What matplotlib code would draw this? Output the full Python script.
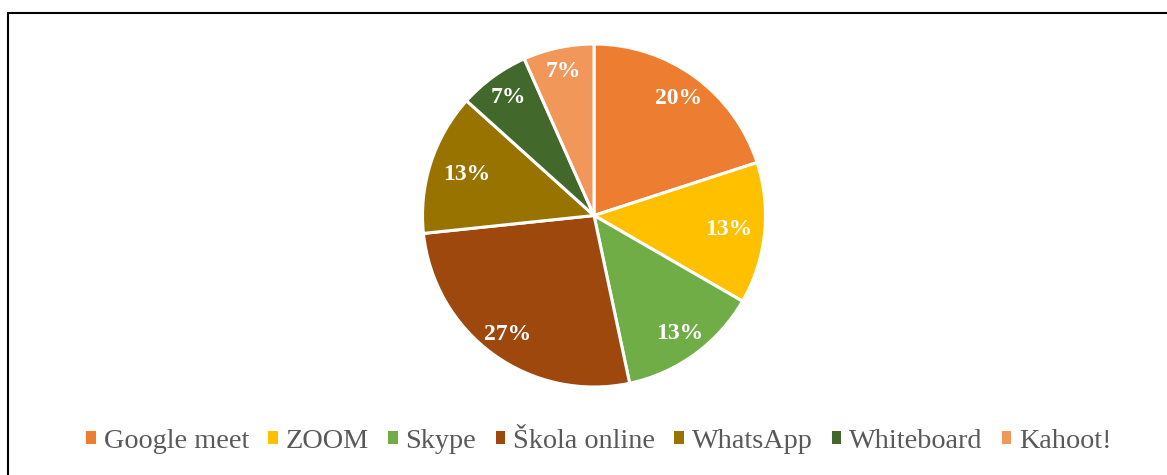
import numpy as np
import matplotlib.pyplot as plt
from matplotlib.patches import Rectangle

plt.rcParams['font.family'] = ['Liberation Serif', 'DejaVu Serif']

labels = ["Google meet", "ZOOM", "Skype", "Škola online", "WhatsApp", "Whiteboard", "Kahoot!"]
counts = [3, 2, 2, 4, 2, 1, 1]
colors = ["#ED7D31", "#FFC000", "#70AD47", "#9E480E", "#997300", "#43682B", "#F1975A"]
# distance of each percent label from the centre (fraction of radius)
label_dist = [0.84, 0.79, 0.85, 0.86, 0.78, 0.85, 0.86]

W, H = 1167, 475
fig = plt.figure(figsize=(W / 100, H / 100), dpi=100)

# chart frame (only top/left edges are visible in the crop)
fig.patches.append(Rectangle((8 / W, -0.1), 1.2, 1 - 13.5 / H + 0.1, transform=fig.transFigure,
                             fill=False, edgecolor="black", linewidth=1.5))

cx, cy, r = 594, 475 - 215.5, 171.5
ax = fig.add_axes([(cx - r) / W, (cy - r) / H, 2 * r / W, 2 * r / H])
wedges, texts, autotexts = ax.pie(counts, colors=colors, startangle=90, counterclock=False,
                                  autopct=lambda p: "%d%%" % round(p), pctdistance=0.84,
                                  wedgeprops=dict(edgecolor="white", linewidth=2.2),
                                  textprops=dict(color="white", fontsize=17, fontweight="bold"))
for w, t, d in zip(wedges, autotexts, label_dist):
    ang = np.deg2rad((w.theta1 + w.theta2) / 2)
    t.set_position((d * np.cos(ang), d * np.sin(ang)))

ax.set_xlim(-1, 1)
ax.set_ylim(-1, 1)
ax.set_aspect("equal")
ax.axis("off")

leg = fig.legend(wedges, labels, loc="center", bbox_to_anchor=(599 / W, 1 - 441 / H), ncol=7,
                 frameon=False, fontsize=20.3, handlelength=0.34, handleheight=0.34,
                 handletextpad=0.28, columnspacing=0.68, labelcolor="#595959",
                 borderpad=0, borderaxespad=0)
for h in leg.legend_handles:
    h.set_edgecolor("none")

fig.savefig("out.png", dpi=100)
